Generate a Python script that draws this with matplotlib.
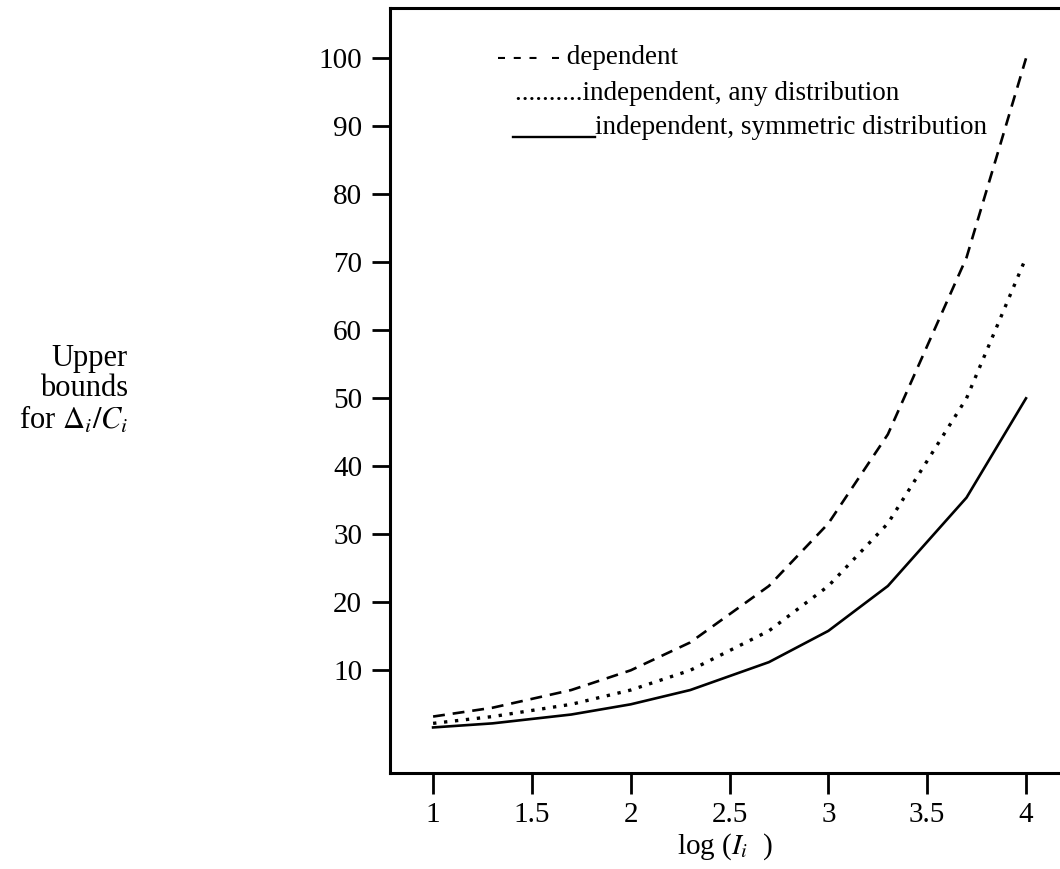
import matplotlib
matplotlib.use("Agg")
import matplotlib.pyplot as plt

# ---- data ----
log_I = [1.0, 1.301, 1.699, 2.0, 2.301, 2.699, 3.0, 3.301, 3.699, 4.0]
dependent = [3.2, 4.5, 7.1, 10.0, 14.1, 22.4, 31.6, 44.7, 70.7, 100.0]
indep_any = [2.2, 3.2, 5.0, 7.1, 10.0, 15.8, 22.4, 31.6, 50.0, 70.7]
indep_sym = [1.6, 2.2, 3.5, 5.0, 7.1, 11.2, 15.8, 22.4, 35.4, 50.0]

x_ticks = [1, 1.5, 2, 2.5, 3, 3.5, 4]
x_tick_labels = ["1", "1.5", "2", "2.5", "3", "3.5", "4"]
y_ticks = [10, 20, 30, 40, 50, 60, 70, 80, 90, 100]
y_tick_labels = [str(v) for v in y_ticks]

plt.rcParams['font.family'] = ['Liberation Serif', 'DejaVu Serif']
plt.rcParams['mathtext.fontset'] = 'stix'

W, H = 1060, 869
fig = plt.figure(figsize=(W / 100, H / 100), dpi=100)
L, R, T, B = 390, 1060, 8, 773
ax = fig.add_axes([L / W, 1 - B / H, (R - L) / W, (B - T) / H])

ax.plot(log_I, dependent, color='black', lw=1.9, linestyle=(0, (4.5, 3)))
ax.plot(log_I, indep_any, color='black', lw=2.4, linestyle=(0, (1, 2.3)))
ax.plot(log_I, indep_sym, color='black', lw=1.9, linestyle='-')

ax.set_xlim(0.782, 4.172)
ax.set_ylim(-5.1, 107.4)

ax.set_xticks(x_ticks)
ax.set_xticklabels(x_tick_labels)
ax.set_yticks(y_ticks)
ax.set_yticklabels(y_tick_labels)

for s in ['left', 'top', 'bottom']:
    ax.spines[s].set_linewidth(2.2)
ax.spines['right'].set_visible(False)

ax.tick_params(axis='x', direction='out', length=15, width=2.0, pad=6, labelsize=21)
ax.tick_params(axis='y', direction='out', length=13, width=2.0, pad=7, labelsize=21)

ax.set_xlabel(r"log ($I_i$  )", fontsize=21, labelpad=2)

# y label (placed to the far left, horizontal)
fig.text(128 / W, 1 - 390 / H, "Upper\nbounds\nfor $\\Delta_i/C_i$",
         ha='right', va='center', multialignment='right', fontsize=22,
         linespacing=1.05)

# legend written as text, as in the reference
fs_leg = 19.5
fig.text(497 / W, 1 - 58 / H, "- - -  - dependent", ha='left', va='center', fontsize=fs_leg)
fig.text(515 / W, 1 - 94 / H, "..........independent, any distribution",
         ha='left', va='center', fontsize=fs_leg)
fig.text(595 / W, 1 - 128 / H, "independent, symmetric distribution",
         ha='left', va='center', fontsize=fs_leg)
fig.add_artist(plt.Line2D([513 / W, 595 / W], [1 - 137 / H, 1 - 137 / H],
                          transform=fig.transFigure, color='black', lw=1.7))

fig.savefig("out.png", dpi=100)
